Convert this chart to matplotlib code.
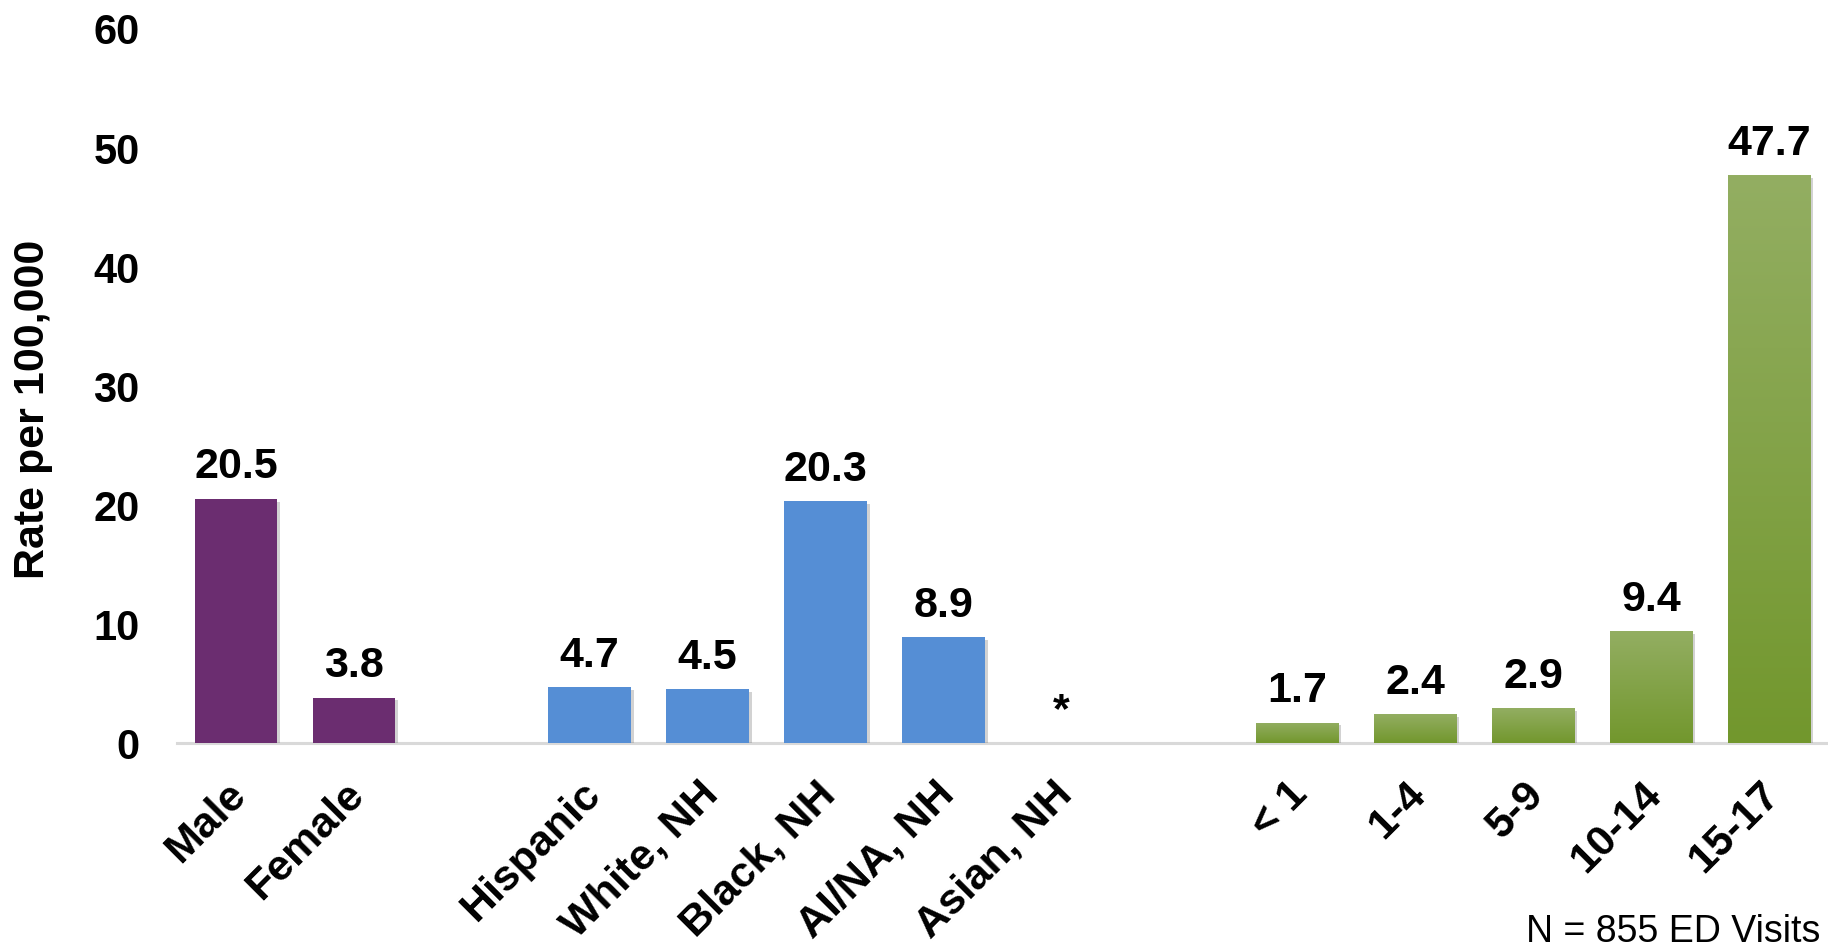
import matplotlib
matplotlib.use('Agg')
import matplotlib.pyplot as plt
import matplotlib.patheffects as pe
import matplotlib.transforms as mtransforms
import numpy as np

sex_labels = ['Male', 'Female']
sex_rates = [20.5, 3.8]

race_labels = ['Hispanic', 'White, NH', 'Black, NH', 'AI/NA, NH', 'Asian, NH']
race_rates = [4.7, 4.5, 20.3, 8.9, np.nan]   # Asian, NH suppressed (*)

age_labels = ['< 1', '1-4', '5-9', '10-14', '15-17']
age_rates = [1.7, 2.4, 2.9, 9.4, 47.7]

y_ticks = [0, 10, 20, 30, 40, 50, 60]

plt.rcParams['font.family'] = ['Liberation Sans', 'DejaVu Sans']

purple = '#6B2D70'
blue = '#558ED5'
green_top = '#93AE62'
green_bottom = '#72972D'

fig = plt.figure(figsize=(18.28, 9.455), dpi=100)
ax = fig.add_axes([0.0968, 0.2138, 0.9032, 0.7556])

# group positions with one empty slot between groups
x_sex = np.arange(len(sex_labels))
x_race = x_sex[-1] + 2 + np.arange(len(race_labels))
x_age = x_race[-1] + 2 + np.arange(len(age_labels))

shadow = [pe.SimplePatchShadow(offset=(2, -2), shadow_rgbFace='#808080', alpha=0.35), pe.Normal()]

bars_sex = ax.bar(x_sex, sex_rates, width=0.7, color=purple, zorder=2)
bars_race = ax.bar(x_race, np.nan_to_num(race_rates), width=0.7, color=blue, zorder=2)
bars_age = ax.bar(x_age, age_rates, width=0.7, color=green_bottom, zorder=2)

for b in list(bars_sex) + list(bars_race) + list(bars_age):
    if b.get_height() > 0:
        b.set_path_effects(shadow)

# vertical gradient on the age bars
grad_cmap = matplotlib.colors.LinearSegmentedColormap.from_list('g', [green_bottom, green_top])
grad = np.linspace(0, 1, 256).reshape(-1, 1)
for b in bars_age:
    x0, w, h = b.get_x(), b.get_width(), b.get_height()
    im = ax.imshow(grad, cmap=grad_cmap, origin='lower', aspect='auto',
                   extent=(x0, x0 + w, 0, h), zorder=3)
    im.set_clip_path(b)

# value labels
all_x = list(x_sex) + list(x_race) + list(x_age)
all_v = list(sex_rates) + list(race_rates) + list(age_rates)
for x, v in zip(all_x, all_v):
    if np.isnan(v):
        txt, yv = '*', 0
    else:
        txt, yv = f'{v:.1f}', v
    ax.annotate(txt, (x, yv), xytext=(0, 15), textcoords='offset points',
                ha='center', va='baseline', fontsize=31, fontweight='bold', zorder=4)

ax.set_xlim(-0.5, all_x[-1] + 0.5)
ax.set_ylim(0, 60)
ax.set_yticks(y_ticks)
ax.set_yticklabels([str(t) for t in y_ticks], fontsize=30, fontweight='bold')
ax.tick_params(axis='y', length=0, pad=27)

ax.set_xticks(all_x)
ax.set_xticklabels(sex_labels + race_labels + age_labels, fontsize=31, fontweight='bold',
                   rotation=45, ha='right', va='baseline', rotation_mode='anchor')
ax.tick_params(axis='x', length=0, pad=38)
offset = mtransforms.ScaledTranslation(0.12, 0, fig.dpi_scale_trans)
for lbl in ax.get_xticklabels():
    lbl.set_transform(lbl.get_transform() + offset)

for s in ['top', 'right', 'left']:
    ax.spines[s].set_visible(False)
ax.spines['bottom'].set_color('#D9D9D9')
ax.spines['bottom'].set_linewidth(2.2)
ax.spines['bottom'].set_zorder(1)

fig.text(0.018, 0.567, 'Rate per 100,000', rotation=90, ha='center', va='center',
         fontsize=31, fontweight='bold')
fig.text(0.996, 0.004, 'N = 855 ED Visits', ha='right', va='baseline', fontsize=27)

fig.savefig('out.png', dpi=100)
